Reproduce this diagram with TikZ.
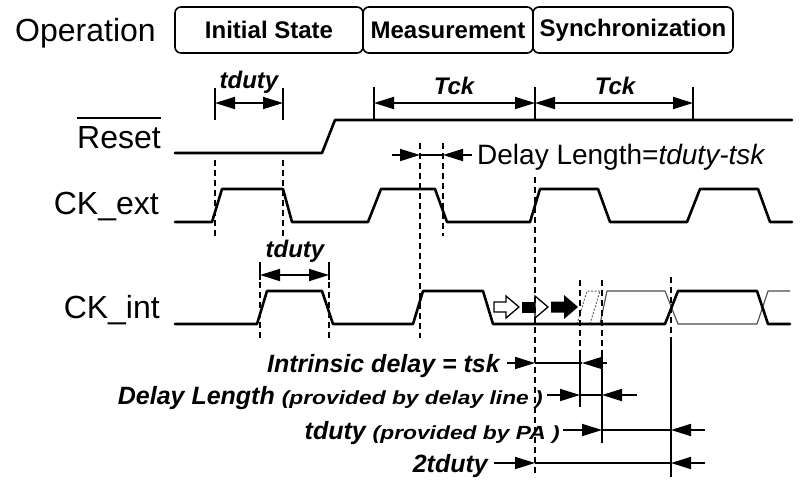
\documentclass[tikz,border=0pt]{standalone}
\usepackage{fontspec}
\setmainfont{Liberation Sans}
\usetikzlibrary{arrows.meta}
\begin{document}
\begin{tikzpicture}[x=1pt,y=-1pt,
  sig/.style={line width=2.6pt,line join=round,line cap=round},
  thinsig/.style={line width=1.1pt,black!70,line join=round},
  thindash/.style={line width=1pt,black!60,dash pattern=on 2pt off 1.5pt},
  vdash/.style={line width=1.8pt,dash pattern=on 6pt off 4pt},
  bar/.style={line width=1.8pt},
  dimboth/.style={line width=1.8pt,{Triangle[length=20pt,width=12pt]}-{Triangle[length=20pt,width=12pt]}},
  dimto/.style={line width=1.8pt,-{Triangle[length=20pt,width=12pt]}},
  lab/.style={font=\fontsize{32}{32}\selectfont,inner sep=0pt},
  opbox/.style={draw,line width=1.6pt,rounded corners=6pt,minimum height=46pt,inner sep=0pt,font=\bfseries\fontsize{24}{24}\selectfont},
  ann/.style={font=\bfseries\itshape\fontsize{24}{24}\selectfont,inner sep=0pt},
  rowlab/.style={font=\bfseries\itshape\fontsize{25}{25}\selectfont,inner sep=0pt},
  blk/.style={line width=1.3pt,draw=black,line join=miter},
]
\fill[white] (0,0) rectangle (801,483);
\useasboundingbox (0,0) rectangle (801,483);

% ---------- operation row ----------
\node[lab,anchor=base west] (oplab) at (15,41) {Operation};
\node[opbox,minimum width=188pt] (init) at (269,30) {Initial State};
\node[opbox,minimum width=170pt] (meas) at (448,30) {Measurement};
\node[opbox,minimum width=200pt] (sync) at (633,30) {Synchronization};

% ---------- signal labels ----------
\node[lab,anchor=base east] (rst) at (161,148) {Reset};
\draw[line width=2.4pt] (rst.north west |- 0,118) -- (rst.north east |- 0,118);
\node[lab,anchor=base east] (ckext) at (159,214) {CK\_ext};
\node[lab,anchor=base east] (ckint) at (160,318) {CK\_int};

% ---------- waveforms ----------
\draw[sig] (175,153) -- (322,153) -- (335,120) -- (792,120);
\draw[sig] (175,222) -- (212,222) -- (222,189) -- (283,189) -- (292,222)
  -- (368,222) -- (381,189) -- (435,189) -- (447,222)
  -- (530,222) -- (540,189) -- (598,189) -- (610,222)
  -- (687,222) -- (700,189) -- (758,189) -- (770,222) -- (792,222);
% thin (uncertain) CK_int states
\draw[thindash] (577,324) -- (587,291) -- (600,291);
\draw[thindash] (590,324) -- (600,291);
\draw[thinsig] (600,324) -- (607,291) -- (665,291) -- (678,324) -- (757,324) -- (768,291) -- (790,291);
\draw[sig] (175,324) -- (257,324) -- (267,291) -- (322,291) -- (333,324)
  -- (413,324) -- (423,291) -- (483,291) -- (493,324)
  -- (665,324) -- (678,291) -- (757,291) -- (768,324) -- (790,324);

% ---------- block arrows on CK_int ----------
\draw[blk,fill=white] (494,302) -- (506,302) -- (506,296) -- (519,307) -- (506,318) -- (506,312) -- (494,312) -- cycle;
\fill (522,301.5) rectangle (535,312.5);
\draw[blk,fill=white] (535,296) -- (548,307) -- (535,318) -- cycle;
\fill (551,301.5) -- (564,301.5) -- (564,295) -- (578,307) -- (564,319) -- (564,312.5) -- (551,312.5) -- cycle;

% ---------- vertical markers ----------
% tduty on CK_ext
\draw[bar] (215,88) -- (215,120);
\draw[bar] (283,88) -- (283,120);
\draw[vdash] (215,160) -- (215,236);
\draw[vdash] (283,160) -- (283,236);
% tduty on CK_int
\draw[bar] (260,262) -- (260,280);
\draw[bar] (329,262) -- (329,280);
\draw[vdash] (260,282) -- (260,338);
\draw[vdash] (329,282) -- (329,338);
% Tck bars
\draw[bar] (374,87) -- (374,119);
\draw[bar] (535,87) -- (535,119);
\draw[bar] (693,87) -- (693,119);
% delay length (measurement)
\draw[vdash] (420,143) -- (420,338);
\draw[vdash] (443,143) -- (443,236);
% synchronization markers
\draw[vdash] (535,177) -- (535,477);
\draw[vdash] (580,280) -- (580,356);
\draw[bar] (580,356) -- (580,407);
\draw[vdash] (602,280) -- (602,356);
\draw[bar] (602,356) -- (602,443);
\draw[vdash] (671,277) -- (671,342);
\draw[bar] (671,342) -- (671,477);

% ---------- dimension arrows (top) ----------
\coordinate (tda) at (215,103); \coordinate (tdb) at (283,103);
\draw[dimboth] (tda) -- (tdb);
\node[ann,anchor=base] (tdlab1) at (249,88) {tduty};

\coordinate (tdc) at (260,275); \coordinate (tdd) at (329,275);
\draw[dimboth] (tdc) -- (tdd);
\node[ann,anchor=base] (tdlab2) at (295,257) {tduty};

\coordinate (tk1) at (374,103); \coordinate (tk2) at (535,103); \coordinate (tk3) at (693,103);
\draw[dimboth] (tk1) -- (tk2);
\draw[dimboth] (tk2) -- (tk3);
\node[ann,anchor=base] (tcklab1) at (454,94) {Tck};
\node[ann,anchor=base] (tcklab2) at (615,94) {Tck};

\coordinate (dl0) at (392,155); \coordinate (dl1) at (420,155);
\coordinate (dl2) at (443,155); \coordinate (dl3) at (472,155);
\draw[dimto] (dl0) -- (dl1);
\draw[bar] (dl1) -- (dl2);
\draw[dimto] (dl3) -- (dl2);
\node[inner sep=0pt,anchor=base west,font=\fontsize{28}{28}\selectfont] (dllab) at (477,164) {Delay Length=\textit{tduty-tsk}};

% ---------- dimension rows (bottom) ----------
\node[rowlab,anchor=base east] (r1) at (500,372) {Intrinsic delay = tsk};
\node[rowlab,anchor=base east] (r2) at (543,404) {Delay Length \scalebox{1.2}[1]{\fontsize{19}{19}\selectfont (provided by delay line )}};
\node[rowlab,anchor=base east] (r3) at (560,439) {tduty \scalebox{1.2}[1]{\fontsize{19}{19}\selectfont (provided by PA )}};
\node[rowlab,anchor=base east] (r4) at (488,472) {2tduty};

\coordinate (a1) at (507,363); \coordinate (b1) at (535,363); \coordinate (c1) at (582,363); \coordinate (d1) at (607,363);
\draw[dimto] (a1) -- (b1);
\draw[bar] (b1) -- (c1);
\draw[dimto] (d1) -- (c1);

\coordinate (a2) at (547,395); \coordinate (b2) at (580,395); \coordinate (c2) at (602,395); \coordinate (d2) at (637,395);
\draw[dimto] (a2) -- (b2);
\draw[bar] (b2) -- (c2);
\draw[dimto] (d2) -- (c2);

\coordinate (a3) at (563,430); \coordinate (b3) at (602,430); \coordinate (c3) at (671,430); \coordinate (d3) at (705,430);
\draw[dimto] (a3) -- (b3);
\draw[bar] (b3) -- (c3);
\draw[dimto] (d3) -- (c3);

\coordinate (a4) at (494,463); \coordinate (b4) at (535,463); \coordinate (c4) at (671,463); \coordinate (d4) at (705,463);
\draw[dimto] (a4) -- (b4);
\draw[bar] (b4) -- (c4);
\draw[dimto] (d4) -- (c4);
\end{tikzpicture}
\end{document}
